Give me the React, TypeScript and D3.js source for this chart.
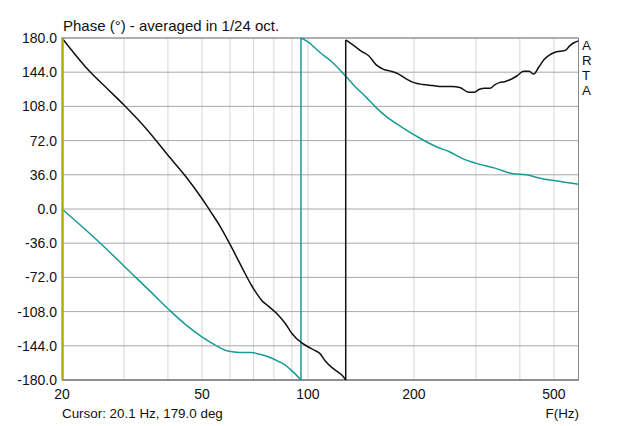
import React from "react";
import * as d3 from "d3";

const W = 640;
const H = 426;
const M = { left: 62, right: 578.5, top: 38, bottom: 380 };

const xTickLabels = [20, 50, 100, 200, 500];
const xGrid = [30, 40, 50, 60, 70, 80, 90, 100, 200, 300, 400, 500];
const yTicks = [180, 144, 108, 72, 36, 0, -36, -72, -108, -144, -180];

// Black curve: [frequency Hz, phase deg]
const blackFreq = [20, 23.8, 27, 30, 35, 39.9, 45, 50.3, 52.5, 56, 59.8, 65, 69, 71.5, 73.8, 77, 81.5, 86, 90, 96, 100, 104.8, 108, 112, 117, 121, 125, 128,
  128, 135, 142, 149, 156, 164, 172, 181, 190, 200, 212, 226, 240, 256, 270, 286, 297, 307, 318, 329, 340, 350, 362, 375, 392, 410, 425, 438, 452, 468, 485, 504, 520, 538, 555, 570, 587];
const blackPhase = [180, 146, 126, 109.5, 83, 57, 34, 9.5, -1, -17, -36, -62, -80, -89, -96, -102, -110, -120, -131, -141, -145, -149, -152, -160, -167, -171, -175, -180,
  178, 172, 166, 161, 152, 147, 145, 142, 137, 133, 131, 130, 129, 129, 128, 123, 123, 126, 127, 127, 131, 133, 134, 136, 140, 145, 145, 142, 149, 157, 162, 165, 166, 167, 172, 175, 177];

// Teal curve
const tealFreq = [20, 25.7, 32.4, 35.7, 40.3, 45, 49.7, 55, 59.2, 64, 69, 73, 77.1, 82, 86, 91, 95.5,
  95.5, 100, 108, 116.8, 127.8, 136, 146, 156, 166, 185, 207, 230, 253, 275, 301, 340, 383, 418, 450, 488, 530, 587];
const tealPhase = [0, -36, -72, -87, -106, -122, -134, -144, -149.5, -151, -151, -153, -155.5, -160, -164, -172, -180,
  180, 176, 165, 155, 140, 129, 118, 107, 98, 86, 75, 66, 60, 53, 48, 43, 37, 36, 33, 30.5, 28.5, 26];

const title = "Phase (°) - averaged in 1/24 oct.";
const cursorText = "Cursor: 20.1 Hz, 179.0 deg";
const axisName = "F(Hz)";
const brand = ["A", "R", "T", "A"];

function splitAtJumps(fs: number[], ps: number[]) {
  const segs: [number, number][][] = [];
  let cur: [number, number][] = [];
  fs.forEach((f, i) => {
    if (i > 0 && Math.abs(ps[i] - ps[i - 1]) > 180) {
      segs.push(cur);
      cur = [];
    }
    cur.push([f, ps[i]]);
  });
  segs.push(cur);
  return segs;
}

export default function App() {
  const x = d3.scaleLog().domain([20, 587]).range([M.left, M.right]);
  const y = d3.scaleLinear().domain([-180, 180]).range([M.bottom, M.top]);
  const gen = d3
    .line<[number, number]>()
    .x((d) => x(d[0]))
    .y((d) => y(d[1]))
    .curve(d3.curveMonotoneX);
  const paths = (fs: number[], ps: number[]) => {
    const segs = splitAtJumps(fs, ps);
    const out: string[] = segs.map((s) => gen(s) || "");
    for (let k = 1; k < segs.length; k++) {
      const a = segs[k - 1][segs[k - 1].length - 1];
      const b = segs[k][0];
      out.push(`M${x(a[0])},${y(a[1])}L${x(b[0])},${y(b[1])}`);
    }
    return out;
  };
  const font = "'Liberation Sans', Arial, sans-serif";
  return (
    <svg
      width={W}
      height={H}
      style={{ position: "absolute", left: 0, top: 0, background: "#fff" }}
      fontFamily={font}
    >
      <rect x={0} y={0} width={W} height={H} fill="#fff" />
      {xGrid.map((f) => (
        <line key={"vx" + f} x1={x(f)} x2={x(f)} y1={M.top} y2={M.bottom} stroke="#d6d6d6" strokeWidth={1} />
      ))}
      {yTicks.map((p) => (
        <line key={"hy" + p} x1={M.left} x2={M.right} y1={y(p)} y2={y(p)} stroke="#a8a8a8" strokeWidth={1} />
      ))}
      <rect x={M.left} y={M.top} width={M.right - M.left} height={M.bottom - M.top} fill="none" stroke="#8a8a8a" strokeWidth={1} />
      <line x1={M.left} x2={M.right} y1={M.bottom} y2={M.bottom} stroke="#707070" strokeWidth={1.2} />
      {paths(tealFreq, tealPhase).map((d, i) => (
        <path key={"t" + i} d={d} fill="none" stroke="#179a98" strokeWidth={1.5} />
      ))}
      {paths(blackFreq, blackPhase).map((d, i) => (
        <path key={"k" + i} d={d} fill="none" stroke="#111" strokeWidth={1.5} />
      ))}
      <line x1={x(20.1)} x2={x(20.1)} y1={M.top} y2={M.bottom} stroke="#b0aa10" strokeWidth={2} />
      {yTicks.map((p) => (
        <text key={"yl" + p} x={57} y={y(p) + 5} textAnchor="end" fontSize={14} fill="#111">
          {p.toFixed(1)}
        </text>
      ))}
      {xTickLabels.map((f) => (
        <text key={"xl" + f} x={x(f)} y={399} textAnchor="middle" fontSize={14} fill="#111">
          {f}
        </text>
      ))}
      <text x={63} y={31} fontSize={15} fill="#111">
        {title}
      </text>
      <text x={62} y={418} fontSize={13.4} fill="#111">
        {cursorText}
      </text>
      <text x={579} y={418} textAnchor="end" fontSize={13.4} fill="#111">
        {axisName}
      </text>
      {brand.map((c, i) => (
        <text key={"b" + i} x={582} y={50 + i * 15} fontSize={13.4} fill="#111">
          {c}
        </text>
      ))}
    </svg>
  );
}
